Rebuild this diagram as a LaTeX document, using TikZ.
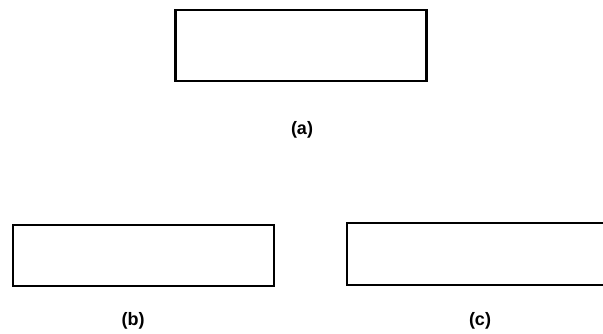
\documentclass[tikz,border=0pt]{standalone}
\usepackage{fontspec}
\setmainfont{Liberation Sans}
\begin{document}
\begin{tikzpicture}[x=1pt,y=1pt,
  box/.style={draw=black,line width=2.6pt,inner sep=0pt},
  lab/.style={font=\bfseries\fontsize{18}{20}\selectfont,inner sep=0pt}]
\clip (0,0) rectangle (603,333);
\fill[white] (0,0) rectangle (603,333);
\node[box,minimum width=251pt,minimum height=71pt] (ra) at (301,287.5) {};
\node[lab] (la) at (302,203) {(a)};
\node[box,minimum width=261pt,minimum height=61pt] (rb) at (143.5,77.5) {};
\node[lab] (lb) at (133,12) {(b)};
\node[box,minimum width=270pt,minimum height=62pt] (rc) at (482,79) {};
\node[lab] (lc) at (480,12) {(c)};
\end{tikzpicture}
\end{document}
